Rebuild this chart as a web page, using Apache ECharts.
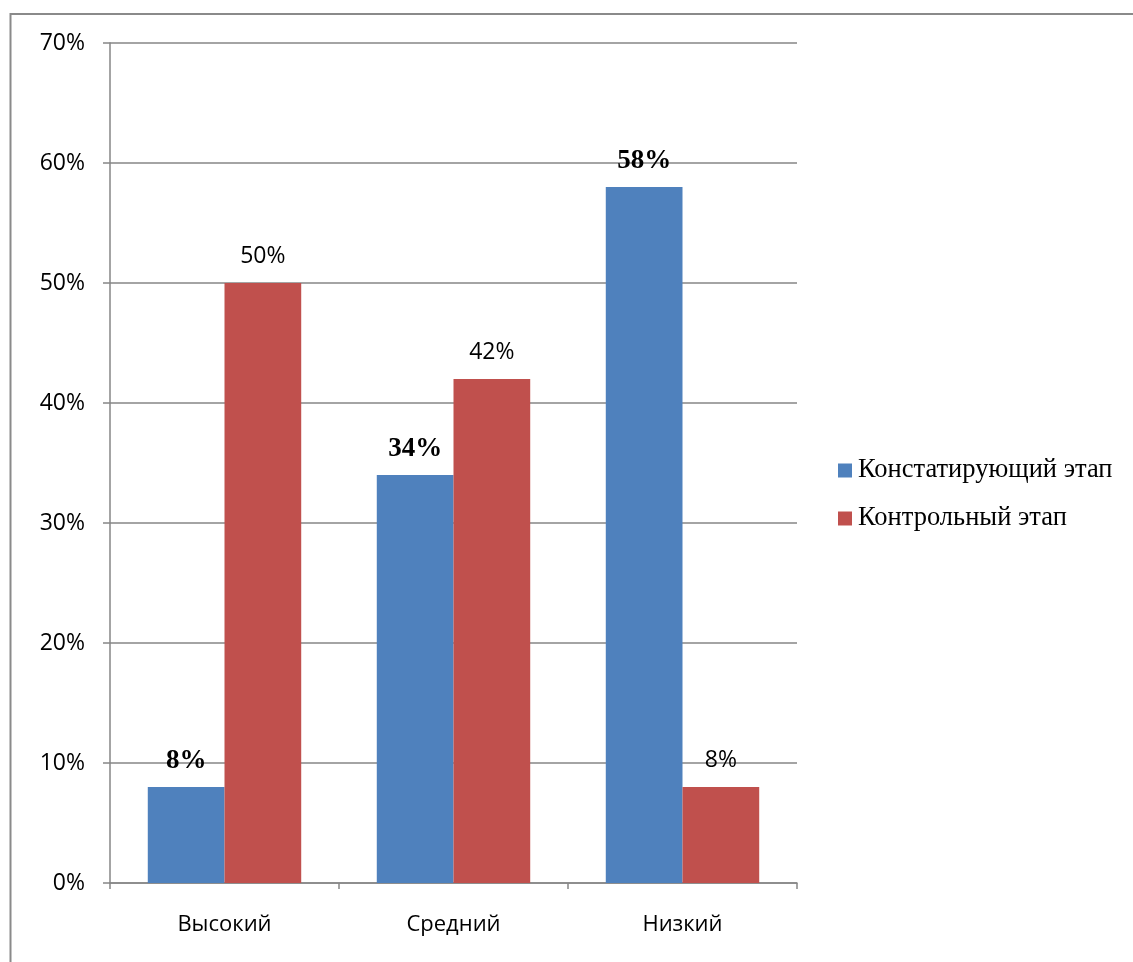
<!DOCTYPE html>
<html>
<head>
<meta charset="utf-8">
<script src="https://cdn.jsdelivr.net/npm/echarts@6/dist/echarts.min.js"></script>
<style>
html,body{margin:0;padding:0;background:#fff;}
#c{width:1133px;height:962px;}
</style>
</head>
<body>
<div id="c"></div>
<script>
const categories = ['Высокий', 'Средний', 'Низкий'];
const seriesNames = ['Констатирующий этап', 'Контрольный этап'];
const valuesStating = [8, 34, 58];
const valuesControl = [50, 42, 8];
const yTicks = [0, 10, 20, 30, 40, 50, 60, 70];

const chart = echarts.init(document.getElementById('c'), null, {renderer: 'canvas'});
const axisGray = '#868686';
chart.setOption({
  animation: false,
  backgroundColor: '#fff',
  graphic: [{
    type: 'polyline',
    shape: {points: [[10.5, 980], [10.5, 14], [1140, 14]]},
    style: {stroke: '#8a8a8a', lineWidth: 2, fill: null},
    silent: true
  }],
  grid: {left: 110, top: 43, right: 336, bottom: 79, containLabel: false},
  legend: {
    orient: 'vertical',
    left: 833,
    top: 452,
    itemWidth: 14,
    itemHeight: 14,
    itemGap: 21,
    icon: 'rect',
    textStyle: {fontFamily: 'Liberation Serif', fontSize: 26.5, color: '#000', padding: [0, 0, 0, 1]},
    data: seriesNames
  },
  xAxis: {
    type: 'category',
    data: categories,
    axisLine: {lineStyle: {color: axisGray, width: 1.5}},
    axisTick: {show: true, length: 6, lineStyle: {color: axisGray, width: 1.5}},
    axisLabel: {fontFamily: 'Open Sans', fontSize: 22, color: '#000', margin: 31}
  },
  yAxis: {
    type: 'value',
    min: yTicks[0],
    max: yTicks[yTicks.length - 1],
    interval: 10,
    axisLine: {show: true, lineStyle: {color: axisGray, width: 1.5}},
    axisTick: {show: true, length: 7, lineStyle: {color: axisGray, width: 1.5}},
    splitLine: {show: true, lineStyle: {color: axisGray, width: 1.5}},
    axisLabel: {fontFamily: 'Open Sans', fontSize: 23, color: '#000', margin: 25, formatter: v => v + '%'}
  },
  series: [{
    name: seriesNames[0],
    type: 'bar',
    data: valuesStating,
    barGap: '0%',
    barCategoryGap: '33%',
    itemStyle: {color: '#4F81BD'},
    label: {show: true, position: 'top', distance: 12, formatter: p => p.value + '%',
      fontFamily: 'Liberation Serif', fontWeight: 'bold', fontSize: 27, color: '#000'}
  }, {
    name: seriesNames[1],
    type: 'bar',
    data: valuesControl,
    barGap: '0%',
    barCategoryGap: '33%',
    itemStyle: {color: '#C0504D'},
    label: {show: true, position: 'top', distance: 15, formatter: p => p.value + '%',
      fontFamily: 'Open Sans', fontSize: 23, color: '#000'}
  }]
});
</script>
</body>
</html>
